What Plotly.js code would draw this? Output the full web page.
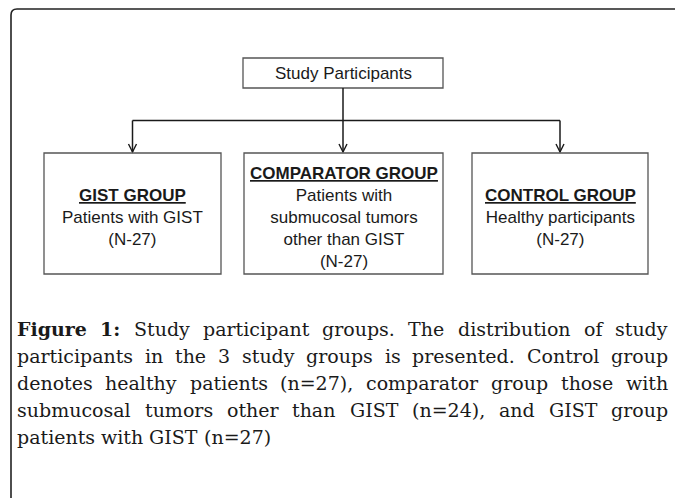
<!DOCTYPE html>
<html><head><meta charset="utf-8">
<script src="https://cdn.plot.ly/plotly-3.0.1.min.js"></script>
<style>html,body{margin:0;padding:0;background:#fff}#chart{width:675px;height:498px}</style>
</head><body><div id="chart"></div>
<script>
// ---- data ----
const rootLabel = "Study Participants";
const groupTitles = ["GIST GROUP", "COMPARATOR GROUP", "CONTROL GROUP"];
const groupDescriptions = [
  ["Patients with GIST"],
  ["Patients with", "submucosal tumors", "other than GIST"],
  ["Healthy participants"]
];
const groupCounts = ["(N-27)", "(N-27)", "(N-27)"];
const captionHeading = "Figure 1:";
const captionLines = [
  "Study participant groups. The distribution of study",
  "participants in the 3 study groups is presented. Control group",
  "denotes healthy patients (n=27), comparator group those with",
  "submucosal tumors other than GIST (n=24), and GIST group",
  "patients with GIST (n=27)"
];

// ---- layout geometry (pixels) ----
const W = 675, H = 498;
const rootBox = {x0: 243, x1: 443, y0: 58, y1: 88};
const groupBoxes = [{x0: 44, x1: 221}, {x0: 244, x1: 443}, {x0: 472, x1: 648}];
const boxTop = 153, boxBottom = 274, busY = 120.5, groupTextY = 217;
const capLeft = 17, capRight = 668, capY0 = 329, capStep = 27;
const capFamily = '"DejaVu Serif"', capSize = 19;
const boxFamily = '"Liberation Sans", Arial, sans-serif', boxSize = 17;

const shapes = [];
const annotations = [];
const ink = '#1a1a1a';

// outer rounded frame
shapes.push({type: 'path', xref: 'x', yref: 'y',
  path: `M ${W + 10} 9 L 17 9 Q 11 9 11 15 L 11 ${H + 10}`,
  line: {color: '#222', width: 1.6}});

// root box
shapes.push({type: 'rect', xref: 'x', yref: 'y', x0: rootBox.x0, x1: rootBox.x1, y0: rootBox.y0, y1: rootBox.y1,
  line: {color: '#555', width: 1.3}, fillcolor: 'rgba(0,0,0,0)'});
annotations.push({x: (rootBox.x0 + rootBox.x1) / 2, y: (rootBox.y0 + rootBox.y1) / 2, xref: 'x', yref: 'y',
  text: rootLabel, showarrow: false, xanchor: 'center', yanchor: 'middle',
  font: {family: boxFamily, size: boxSize, color: ink}});

// connectors
const centers = groupBoxes.map(b => (b.x0 + b.x1) / 2);
const rootCx = (rootBox.x0 + rootBox.x1) / 2;
shapes.push({type: 'line', xref: 'x', yref: 'y', x0: rootCx, x1: rootCx, y0: rootBox.y1, y1: boxTop - 1,
  line: {color: ink, width: 1.5}});
shapes.push({type: 'line', xref: 'x', yref: 'y', x0: centers[0], x1: centers[2], y0: busY, y1: busY,
  line: {color: ink, width: 1.5}});
centers.forEach((cx, i) => {
  const ax = (i === 1) ? rootCx : cx;
  if (i !== 1) {
    shapes.push({type: 'line', xref: 'x', yref: 'y', x0: ax, x1: ax, y0: busY, y1: boxTop - 1,
      line: {color: ink, width: 1.5}});
  }
  shapes.push({type: 'path', xref: 'x', yref: 'y',
    path: `M ${ax - 4} ${boxTop - 9} L ${ax} ${boxTop - 1} L ${ax + 4} ${boxTop - 9}`,
    line: {color: ink, width: 1.4}});
});

// group boxes
groupBoxes.forEach((b, i) => {
  shapes.push({type: 'rect', xref: 'x', yref: 'y', x0: b.x0, x1: b.x1, y0: boxTop, y1: boxBottom,
    line: {color: '#555', width: 1.3}, fillcolor: 'rgba(0,0,0,0)'});
  const text = `<b><u>${groupTitles[i]}</u></b><br>` + groupDescriptions[i].join('<br>') + '<br>' + groupCounts[i];
  annotations.push({x: centers[i], y: groupTextY, xref: 'x', yref: 'y', text: text,
    showarrow: false, xanchor: 'center', yanchor: 'middle', align: 'center',
    font: {family: boxFamily, size: boxSize, color: ink}});
});

// caption (justified, word by word)
const cv = document.createElement('canvas').getContext('2d');
function measure(word, bold) {
  cv.font = `${bold ? 'bold ' : ''}${capSize}px ${capFamily}`;
  return cv.measureText(word).width;
}
captionLines.forEach((line, li) => {
  const words = line.split(' ').map(w => ({t: w, b: false}));
  if (li === 0) {
    captionHeading.split(' ').reverse().forEach(w => words.unshift({t: w, b: true}));
  }
  const widths = words.map(w => measure(w.t, w.b));
  const total = widths.reduce((a, c) => a + c, 0);
  const justify = li < captionLines.length - 1;
  const gap = justify ? (capRight - capLeft - total) / (words.length - 1) : measure(' ', false);
  let x = capLeft;
  const y = capY0 + li * capStep;
  words.forEach((w, wi) => {
    annotations.push({x: x, y: y, xref: 'x', yref: 'y', text: w.b ? `<b>${w.t}</b>` : w.t,
      showarrow: false, xanchor: 'left', yanchor: 'middle', borderpad: 0, borderwidth: 0,
      font: {family: capFamily, size: capSize, color: '#1a1a1a'}});
    x += widths[wi] + gap;
  });
});

const layout = {
  width: W, height: H,
  margin: {l: 0, r: 0, t: 0, b: 0, pad: 0},
  paper_bgcolor: '#fff', plot_bgcolor: '#fff',
  xaxis: {range: [0, W], visible: false, fixedrange: true},
  yaxis: {range: [H, 0], visible: false, fixedrange: true},
  showlegend: false,
  shapes: shapes,
  annotations: annotations
};
Plotly.newPlot('chart', [], layout, {staticPlot: true, displayModeBar: false});
</script>
</body></html>
